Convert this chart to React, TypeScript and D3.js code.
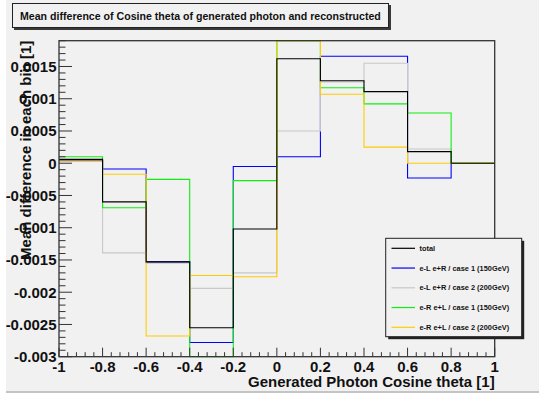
import * as d3 from 'd3';

// bin edges of the histograms, cos(theta) from -1 to 1
const binEdges = [-1, -0.8, -0.6, -0.4, -0.2, 0, 0.2, 0.4, 0.6, 0.8, 1];

// mean difference per bin
const total = [0.00006, -0.0006, -0.00153, -0.00255, -0.00102, 0.00162, 0.00128, 0.00111, 0.00018, 0];
const eLeRcase1 = [0.00004, -0.00009, -0.00153, -0.00278, -0.00005, 0.0001, 0.00166, 0.00166, -0.00023, 0];
const eLeRcase2 = [0.00005, -0.00139, -0.00155, -0.00194, -0.0017, 0.0005, 0.00126, 0.00155, 0.00022, 0];
const eReLcase1 = [0.0001, -0.00069, -0.00025, -0.0035, -0.00027, 0.0025, 0.00117, 0.00092, 0.00078, 0];
const eReLcase2 = [0.00003, -0.00017, -0.00268, -0.00174, -0.00176, 0.0025, 0.00107, 0.00025, 0, 0];

const seriesNames = [
  'total',
  'e-L e+R / case 1 (150GeV)',
  'e-L e+R / case 2 (200GeV)',
  'e-R e+L / case 1 (150GeV)',
  'e-R e+L / case 2 (200GeV)',
];
const seriesColors = ['#000000', '#0000ff', '#c8c8c8', '#11ee11', '#ffcc00'];
const seriesValues = [total, eLeRcase1, eLeRcase2, eReLcase1, eReLcase2];

const yTickLabels = ['-0.003', '-0.0025', '-0.002', '-0.0015', '-0.001', '-0.0005', '0', '0.0005', '0.001', '0.0015'];
const xTickLabels = ['-1', '-0.8', '-0.6', '-0.4', '-0.2', '0', '0.2', '0.4', '0.6', '0.8', '1'];

const width = 539;
const height = 396;
const frame = { left: 59, right: 494.7, top: 40.7, bottom: 356.7 };
const font = '"Liberation Sans", Arial, Helvetica, sans-serif';

export default function App() {
  const x = d3.scaleLinear().domain([-1, 1]).range([frame.left, frame.right]);
  const y = d3.scaleLinear().domain([-0.003, 0.0019]).range([frame.bottom, frame.top]).clamp(true);

  const stepPath = (values: number[]) => {
    const pts: [number, number][] = values.map((v, i) => [binEdges[i], v]);
    pts.push([binEdges[binEdges.length - 1], values[values.length - 1]]);
    return d3
      .line<[number, number]>()
      .x((d) => x(d[0]))
      .y((d) => y(d[1]))
      .curve(d3.curveStepAfter)(pts);
  };

  const yMinor = d3.range(-30, 20).map((k) => k / 10000);
  const xMinor = d3.range(0, 51).map((k) => -1 + k * 0.04);

  // draw the components first, the total on top
  const drawOrder = [1, 2, 3, 4, 0];

  const legend = { x: 385.7, y: 238.3, w: 136, h: 98.4 };

  return (
    <svg
      width={width}
      height={height}
      style={{ position: 'absolute', left: 0, top: 0 }}
      fontFamily={font}
      fontWeight="bold"
    >
      <rect x={0} y={0} width={width} height={height} fill="#ffffff" />
      <rect x={6} y={0} width={width - 6} height={391} fill="#f1f1f1" />
      <line x1={6} x2={width} y1={392} y2={392} stroke="#c4c4c4" strokeWidth={2} />

      {/* title box */}
      <rect x={14} y={5} width={377} height={25} fill="#3a3a3a" />
      <rect x={12.5} y={3.5} width={376} height={24} fill="#f1f1f1" stroke="#222" strokeWidth={1} />
      <text x={20} y={19.5} fontSize={10.6} fill="#111">
        Mean difference of Cosine theta of generated photon and reconstructed
      </text>

      <defs>
        <clipPath id="frameClip">
          <rect x={frame.left} y={frame.top - 1} width={frame.right - frame.left} height={frame.bottom - frame.top + 2} />
        </clipPath>
      </defs>

      {/* histograms */}
      <g clipPath="url(#frameClip)" fill="none">
        {drawOrder.map((s) => (
          <path key={s} d={stepPath(seriesValues[s]) ?? ''} stroke={seriesColors[s]} strokeWidth={1.1} />
        ))}
      </g>

      {/* frame */}
      <rect
        x={frame.left}
        y={frame.top}
        width={frame.right - frame.left}
        height={frame.bottom - frame.top}
        fill="none"
        stroke="#333"
        strokeWidth={1.3}
      />

      {/* axis ticks */}
      <g stroke="#333" strokeWidth={1}>
        {yMinor.map((v, i) => {
          const major = Math.round(v * 10000) % 5 === 0;
          return (
            <line key={i} x1={frame.left} x2={frame.left + (major ? 13 : 6.5)} y1={y(v)} y2={y(v)} />
          );
        })}
        {xMinor.map((v, i) => {
          const major = i % 5 === 0;
          return (
            <line key={i} x1={x(v)} x2={x(v)} y1={frame.bottom} y2={frame.bottom - (major ? 9 : 4.5)} />
          );
        })}
      </g>

      {/* tick labels */}
      <g fontSize={15} fill="#111">
        {yTickLabels.map((t) => (
          <text key={t} x={56.5} y={y(+t) + 5.3} textAnchor="end">
            {t}
          </text>
        ))}
        {xTickLabels.map((t) => (
          <text key={t} x={x(+t)} y={372} textAnchor="middle">
            {t}
          </text>
        ))}
      </g>

      {/* axis titles */}
      <text x={frame.right} y={387} fontSize={15} textAnchor="end" fill="#111">
        Generated Photon Cosine theta [1]
      </text>
      <text
        transform={`translate(30.5,${frame.top}) rotate(-90)`}
        fontSize={15}
        textAnchor="end"
        fill="#111"
      >
        Mean difference in each bin [1]
      </text>

      {/* legend */}
      <rect x={legend.x + 2.5} y={legend.y + 2.5} width={legend.w} height={legend.h} fill="#222" />
      <rect x={legend.x} y={legend.y} width={legend.w} height={legend.h} fill="#f1f1f1" stroke="#222" strokeWidth={1} />
      {seriesNames.map((name, i) => {
        const rowY = legend.y + 10 + i * 19.75;
        return (
          <g key={name}>
            <line x1={391.5} x2={415} y1={rowY} y2={rowY} stroke={seriesColors[i]} strokeWidth={1.2} />
            <text x={419.5} y={rowY + 2.6} fontSize={7.4} fill="#111">
              {name}
            </text>
          </g>
        );
      })}
    </svg>
  );
}
